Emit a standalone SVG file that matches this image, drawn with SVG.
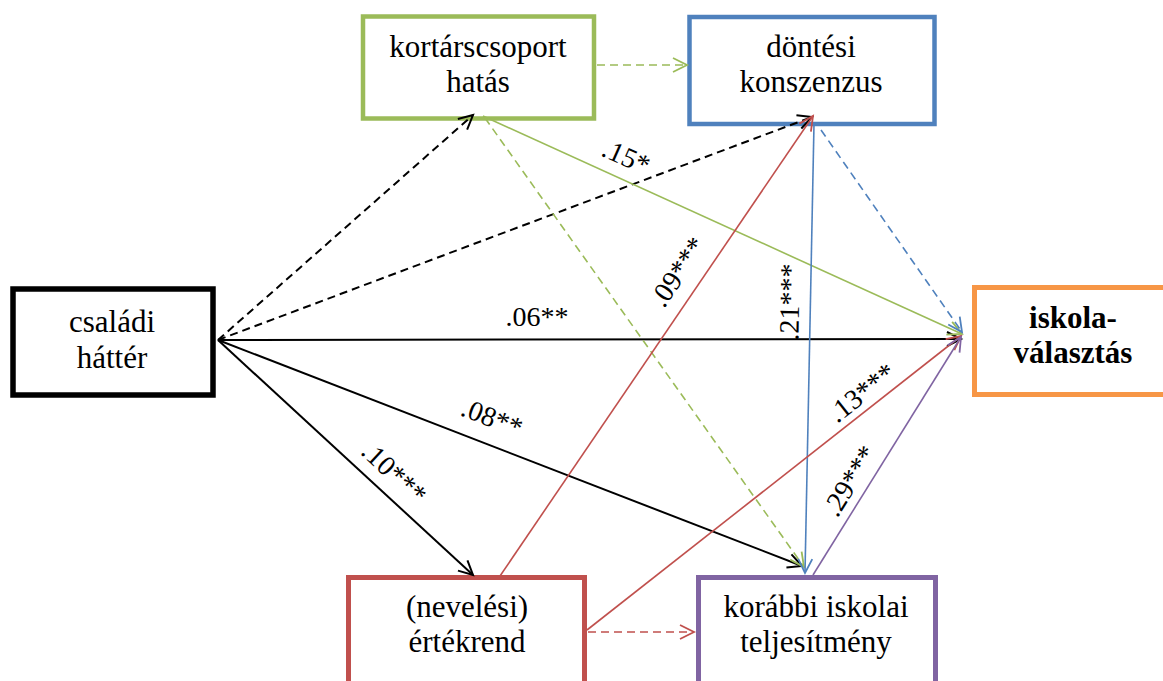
<svg xmlns="http://www.w3.org/2000/svg" width="1163" height="681" viewBox="0 0 1163 681">
  <style>
    .box { fill: #ffffff; stroke-width: 4.5; }
    .txt { font-family: "Liberation Serif", "Noto Serif", "Nimbus Roman", "Nimbus Roman No9 L", FreeSerif, Tinos, Times, "Times New Roman", Georgia, "DejaVu Serif", serif; }
    .lbl { font-size: 31px; fill: #000000; text-anchor: middle; }
    .bold { font-weight: bold; }
    .coef { font-size: 28px; fill: #000000; text-anchor: middle; }
    .edge { fill: none; stroke-width: 1.6; }
    .dash { stroke-dasharray: 8 5; }
    .k { stroke: #000000; stroke-width: 2; }
    .g { stroke: #9BBB59; }
    .b { stroke: #4F81BD; }
    .r { stroke: #C0504D; }
    .p { stroke: #8064A2; }
  </style>
  <defs>
    <marker id="ah-k" markerUnits="userSpaceOnUse" markerWidth="20" markerHeight="20" viewBox="-16 -10 20 20" refX="0" refY="0" orient="auto">
      <path d="M-14,-7 L0,0 L-14,7" fill="none" stroke="#000000" stroke-width="2"/>
    </marker>
    <marker id="ah-g" markerUnits="userSpaceOnUse" markerWidth="20" markerHeight="20" viewBox="-16 -10 20 20" refX="0" refY="0" orient="auto">
      <path d="M-14,-7 L0,0 L-14,7" fill="none" stroke="#9BBB59" stroke-width="1.8"/>
    </marker>
    <marker id="ah-b" markerUnits="userSpaceOnUse" markerWidth="20" markerHeight="20" viewBox="-16 -10 20 20" refX="0" refY="0" orient="auto">
      <path d="M-14,-7 L0,0 L-14,7" fill="none" stroke="#4F81BD" stroke-width="1.8"/>
    </marker>
    <marker id="ah-r" markerUnits="userSpaceOnUse" markerWidth="20" markerHeight="20" viewBox="-16 -10 20 20" refX="0" refY="0" orient="auto">
      <path d="M-14,-7 L0,0 L-14,7" fill="none" stroke="#C0504D" stroke-width="1.8"/>
    </marker>
    <marker id="ah-p" markerUnits="userSpaceOnUse" markerWidth="20" markerHeight="20" viewBox="-16 -10 20 20" refX="0" refY="0" orient="auto">
      <path d="M-14,-7 L0,0 L-14,7" fill="none" stroke="#8064A2" stroke-width="1.8"/>
    </marker>
  </defs>

  <rect x="0" y="0" width="1163" height="681" fill="#ffffff"/>

  <!-- nodes -->
  <g id="node-kortarscsoport" class="txt">
    <rect class="box" x="363" y="16.5" width="231" height="102" stroke="#9BBB59"/>
    <text class="lbl" x="478" y="57">kortárscsoport</text>
    <text class="lbl" x="478" y="92">hatás</text>
  </g>
  <g id="node-dontesi" class="txt">
    <rect class="box" x="689.5" y="17" width="245" height="107" stroke="#4F81BD"/>
    <text class="lbl" x="811" y="57">döntési</text>
    <text class="lbl" x="811" y="92">konszenzus</text>
  </g>
  <g id="node-csaladi" class="txt">
    <rect x="13" y="289" width="200" height="106" fill="#ffffff" stroke="#000000" stroke-width="5.5"/>
    <text class="lbl" x="112" y="332">családi</text>
    <text class="lbl" x="112" y="368">háttér</text>
  </g>
  <g id="node-iskola" class="txt">
    <rect x="974.5" y="287.5" width="210" height="107" fill="#ffffff" stroke="#F79646" stroke-width="5"/>
    <text class="lbl bold" x="1073" y="328">iskola-</text>
    <text class="lbl bold" x="1073" y="363">választás</text>
  </g>
  <g id="node-neveles" class="txt">
    <rect x="348.5" y="577.5" width="236" height="120" fill="#ffffff" stroke="#C0504D" stroke-width="5"/>
    <text class="lbl" x="467" y="617">(nevelési)</text>
    <text class="lbl" x="467" y="652">értékrend</text>
  </g>
  <g id="node-korabbi" class="txt">
    <rect x="698.5" y="577.5" width="237" height="120" fill="#ffffff" stroke="#8064A2" stroke-width="5"/>
    <text class="lbl" x="816" y="617">korábbi iskolai</text>
    <text class="lbl" x="816" y="652">teljesítmény</text>
  </g>

  <!-- connectors -->
  <g id="connectors">
    <!-- from családi háttér -->
    <line class="edge k dash" x1="218" y1="340" x2="473" y2="115" marker-end="url(#ah-k)"/>
    <line class="edge k dash" x1="218" y1="340" x2="812" y2="117" marker-end="url(#ah-k)"/>
    <line class="edge k" x1="218" y1="340" x2="961" y2="339" marker-end="url(#ah-k)"/>
    <line class="edge k" x1="218" y1="340" x2="802" y2="566" marker-end="url(#ah-k)"/>
    <line class="edge k" x1="218" y1="340" x2="473" y2="575" marker-end="url(#ah-k)"/>
    <!-- from kortárscsoport hatás -->
    <line class="edge g" x1="483" y1="116" x2="962" y2="334" marker-end="url(#ah-g)"/>
    <line class="edge g dash" x1="485" y1="118" x2="804" y2="567" marker-end="url(#ah-g)"/>
    <line class="edge g dash" x1="597" y1="65" x2="687" y2="65" marker-end="url(#ah-g)"/>
    <!-- from döntési konszenzus -->
    <line class="edge b" x1="814" y1="124" x2="805" y2="573" marker-end="url(#ah-b)"/>
    <line class="edge b dash" x1="821" y1="130" x2="962" y2="332" marker-end="url(#ah-b)"/>
    <!-- from (nevelési) értékrend -->
    <line class="edge r" x1="500" y1="576" x2="813" y2="116" marker-end="url(#ah-r)"/>
    <line class="edge r" x1="587" y1="630" x2="961" y2="336" marker-end="url(#ah-r)"/>
    <line class="edge r dash" x1="588" y1="632" x2="694" y2="632" marker-end="url(#ah-r)"/>
    <!-- from korábbi iskolai teljesítmény -->
    <line class="edge p" x1="813" y1="575" x2="961" y2="337" marker-end="url(#ah-p)"/>
  </g>

  <!-- path coefficients -->
  <g id="coefficients" class="txt">
    <text class="coef" x="537" y="326">.06**</text>
    <text class="coef" transform="translate(626,157) rotate(24)" x="0" y="9">.15*</text>
    <text class="coef" transform="translate(678,272) rotate(-56)" x="0" y="9">.09***</text>
    <text class="coef" transform="translate(790,302) rotate(-89)" x="0" y="9">.21***</text>
    <text class="coef" transform="translate(492,418) rotate(21)" x="0" y="9">.08**</text>
    <text class="coef" transform="translate(394,473) rotate(43)" x="0" y="9">.10***</text>
    <text class="coef" transform="translate(862,393) rotate(-38)" x="0" y="9">.13***</text>
    <text class="coef" transform="translate(850,481) rotate(-58)" x="0" y="9">.29***</text>
  </g>
</svg>
